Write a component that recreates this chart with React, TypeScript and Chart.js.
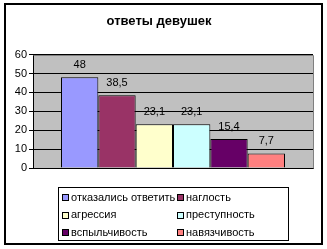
import React, { useEffect, useRef } from "react";
import { Chart, registerables } from "chart.js";

Chart.register(...registerables);

const categories = [""];
const seriesNames = [
  "отказались ответить",
  "наглость",
  "агрессия",
  "преступность",
  "вспыльчивость",
  "навязчивость",
];
const seriesValues = [48, 38.5, 23.1, 23.1, 15.4, 7.7];
const seriesColors = ["#9999FF", "#993366", "#FFFFCC", "#CCFFFF", "#660066", "#FF8080"];
const yTicks = [0, 10, 20, 30, 40, 50, 60];
const titleText = "ответы девушек";

const FONT = "'Liberation Sans', Arial, sans-serif";

const decorPlugin = {
  id: "decor",
  beforeDraw(chart: any) {
    const { ctx, chartArea } = chart;
    ctx.save();
    ctx.fillStyle = "#FFFFFF";
    ctx.fillRect(0, 0, chart.width, chart.height);
    ctx.fillStyle = "#C0C0C0";
    ctx.fillRect(chartArea.left, chartArea.top, chartArea.right - chartArea.left, chartArea.bottom - chartArea.top);
    ctx.restore();
  },
  beforeDatasetsDraw(chart: any) {
    const { ctx, chartArea } = chart;
    ctx.save();
    ctx.strokeStyle = "#808080";
    ctx.lineWidth = 1;
    ctx.beginPath();
    ctx.moveTo(Math.round(chartArea.left) + 0.5, Math.round(chartArea.top) + 0.5);
    ctx.lineTo(Math.round(chartArea.right) + 0.5, Math.round(chartArea.top) + 0.5);
    ctx.lineTo(Math.round(chartArea.right) + 0.5, Math.round(chartArea.bottom) + 0.5);
    ctx.stroke();
    ctx.restore();
  },
  afterDatasetsDraw(chart: any) {
    const { ctx } = chart;
    ctx.save();
    // data labels
    ctx.font = `11px ${FONT}`;
    ctx.fillStyle = "#000000";
    ctx.textAlign = "center";
    ctx.textBaseline = "middle";
    chart.data.datasets.forEach((ds: any, i: number) => {
      const meta = chart.getDatasetMeta(i);
      meta.data.forEach((el: any, j: number) => {
        const v = ds.data[j];
        ctx.fillText(String(v).replace(".", ","), el.x, el.y - 12);
      });
    });

    // legend
    const lx = 58, ly = 187, lw = 230, lh = 53;
    ctx.strokeStyle = "#000000";
    ctx.lineWidth = 1;
    ctx.strokeRect(lx + 0.5, ly + 0.5, lw, lh);
    const colX = [62, 177];
    const rowY = [197.5, 215, 232.5];
    ctx.textAlign = "left";
    ctx.textBaseline = "middle";
    seriesNames.forEach((name, i) => {
      const c = i % 2;
      const r = Math.floor(i / 2);
      const x = colX[c];
      const y = rowY[r];
      ctx.fillStyle = seriesColors[i];
      ctx.fillRect(x, Math.round(y - 3.5), 7, 7);
      ctx.strokeStyle = "#000000";
      ctx.strokeRect(x + 0.5, Math.round(y - 3.5) + 0.5, 6, 6);
      ctx.fillStyle = "#000000";
      ctx.fillText(name, x + 9, y);
    });

    // outer border
    ctx.lineWidth = 2;
    ctx.strokeStyle = "#000000";
    ctx.strokeRect(5, 4, 317, 240);
    ctx.restore();
  },
};

export default function App() {
  const ref = useRef<HTMLCanvasElement | null>(null);
  useEffect(() => {
    if (!ref.current) return;
    const chart = new Chart(ref.current, {
      type: "bar",
      data: {
        labels: categories,
        datasets: seriesNames.map((name, i) => ({
          label: name,
          data: [seriesValues[i]],
          backgroundColor: seriesColors[i],
          borderColor: "#000000",
          borderWidth: 1,
          categoryPercentage: 0.8,
          barPercentage: 1,
        })),
      },
      options: {
        animation: false,
        responsive: false,
        devicePixelRatio: 1,
        layout: { padding: { left: 5, right: 14, top: 0, bottom: 81 } },
        plugins: {
          legend: { display: false },
          tooltip: { enabled: false },
          title: {
            display: true,
            text: titleText,
            color: "#000000",
            font: { family: FONT, size: 13, weight: "bold" },
            padding: { top: 14, bottom: 25 },
          },
        },
        scales: {
          x: {
            grid: { display: false, drawTicks: false },
            border: { display: true, color: "#000000", width: 1 },
            ticks: { display: false },
          },
          y: {
            min: 0,
            max: 60,
            afterBuildTicks: (scale: any) => {
              scale.ticks = yTicks.map((v) => ({ value: v }));
            },
            afterFit: (scale: any) => {
              scale.width = 28;
            },
            grid: { color: "#000000", lineWidth: 1, tickLength: 4, drawOnChartArea: true },
            border: { display: true, color: "#000000", width: 1 },
            ticks: {
              color: "#000000",
              font: { family: FONT, size: 11 },
              padding: 2,
            },
          },
        },
      },
      plugins: [decorPlugin],
    });
    return () => chart.destroy();
  }, []);
  return (
    <div style={{ position: "fixed", left: 0, top: 0, width: 327, height: 249 }}>
      <canvas ref={ref} width={327} height={249} style={{ width: 327, height: 249, display: "block" }} />
    </div>
  );
}
